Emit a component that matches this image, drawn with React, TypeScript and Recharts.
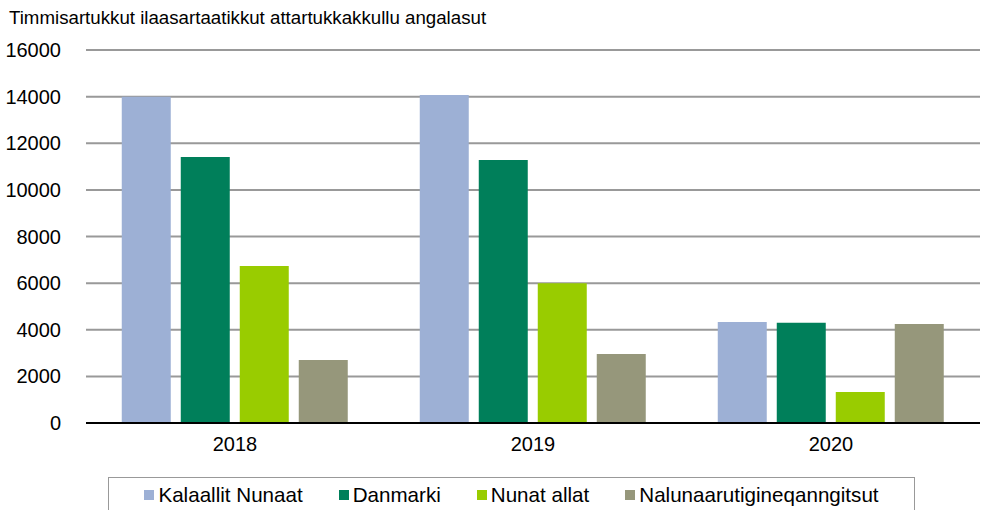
import { Bar, BarChart, CartesianGrid, XAxis, YAxis } from 'recharts';

const years = ['2018', '2019', '2020'];
const kalaallitNunaat = [14000, 14070, 4330];
const danmarki = [11410, 11280, 4300];
const nunatAllat = [6730, 6000, 1330];
const nalunaarutigineqanngitsut = [2700, 2960, 4250];
const yTicks = [0, 2000, 4000, 6000, 8000, 10000, 12000, 14000, 16000];

const series = [
  { key: 'kal', name: 'Kalaallit Nunaat', color: '#9db0d5', values: kalaallitNunaat },
  { key: 'dan', name: 'Danmarki', color: '#007f5a', values: danmarki },
  { key: 'nun', name: 'Nunat allat', color: '#99cc00', values: nunatAllat },
  { key: 'nal', name: 'Nalunaarutigineqanngitsut', color: '#96977b', values: nalunaarutigineqanngitsut },
];

const data = years.map((year, i) => {
  const row: Record<string, string | number> = { year };
  series.forEach((s) => {
    row[s.key] = s.values[i];
  });
  return row;
});

const font = 'Liberation Sans, Arial, sans-serif';

function LegendBox() {
  return (
    <div
      style={{
        position: 'absolute',
        left: 108,
        top: 477,
        width: 807,
        height: 40,
        boxSizing: 'border-box',
        border: '1.5px solid #999',
        display: 'flex',
        justifyContent: 'center',
        alignItems: 'flex-start',
        paddingTop: 5,
        gap: 36,
        fontFamily: font,
        fontSize: 20.6,
        color: '#000',
      }}
    >
      {series.map((s) => (
        <span key={s.key} style={{ display: 'flex', alignItems: 'center' }}>
          <span style={{ width: 10, height: 10, background: s.color, marginRight: 4, display: 'inline-block' }} />
          {s.name}
        </span>
      ))}
    </div>
  );
}

export default function App() {
  return (
    <div style={{ position: 'absolute', left: 0, top: 0, width: 987, height: 510, background: '#fff', overflow: 'hidden' }}>
      <div style={{ position: 'absolute', left: 9, top: 7, fontFamily: font, fontSize: 18.7, zIndex: 1 }}>
        Timmisartukkut ilaasartaatikkut attartukkakkullu angalasut
      </div>
      <BarChart
        width={987}
        height={510}
        data={data}
        margin={{ top: 50, right: 7, bottom: 47, left: 0 }}
        barCategoryGap="12%"
        barGap={10}
        style={{ fontFamily: font }}
      >
        <CartesianGrid vertical={false} stroke="#999" strokeWidth={2} />
        <XAxis
          dataKey="year"
          tickLine={false}
          axisLine={{ stroke: '#000', strokeWidth: 2 }}
          tick={{ fill: '#000', fontSize: 20 }}
          tickMargin={8}
          height={40}
        />
        <YAxis
          domain={[0, 16000]}
          ticks={yTicks}
          tickLine={false}
          axisLine={false}
          width={86}
          tick={{ fill: '#000', fontSize: 20 }}
          tickMargin={19}
          interval={0}
        />
        {series.map((s) => (
          <Bar key={s.key} dataKey={s.key} name={s.name} fill={s.color} isAnimationActive={false} />
        ))}
      </BarChart>
      <LegendBox />
    </div>
  );
}
